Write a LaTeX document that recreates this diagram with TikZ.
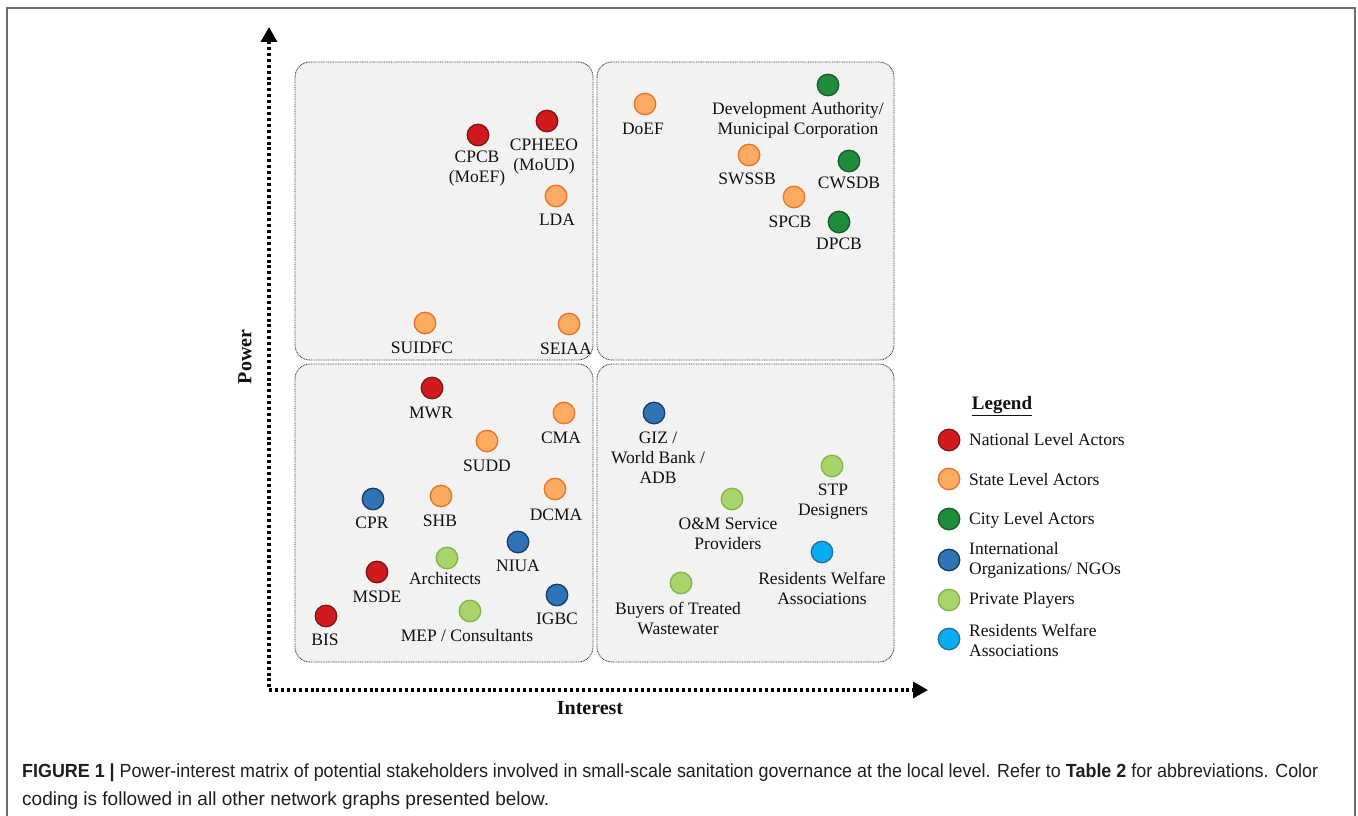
\documentclass[tikz,border=0pt]{standalone}
\usepackage{fontspec}
\setmainfont{Liberation Serif}
\newfontfamily\capfont{Liberation Sans}
\usetikzlibrary{arrows.meta}

\definecolor{natF}{HTML}{D2191E}\definecolor{natD}{HTML}{7E1616}
\definecolor{staF}{HTML}{FBAB62}\definecolor{staD}{HTML}{EC7424}
\definecolor{citF}{HTML}{1F8C3B}\definecolor{citD}{HTML}{175A29}
\definecolor{intF}{HTML}{2E74B5}\definecolor{intD}{HTML}{1C3A66}
\definecolor{priF}{HTML}{A9D46B}\definecolor{priD}{HTML}{7DB646}
\definecolor{rwaF}{HTML}{05AEEF}\definecolor{rwaD}{HTML}{2A6EA6}
\definecolor{quadF}{HTML}{F2F2F2}\definecolor{quadD}{HTML}{3A3A3A}
\definecolor{txt}{HTML}{111111}
\definecolor{frameC}{HTML}{6E6E6E}

\begin{document}
\begin{tikzpicture}[x=1pt,y=-1pt,
  dot/.style={circle,line width=1.3pt,minimum size=21.5pt,inner sep=0pt},
  natdot/.style={dot,fill=natF,draw=natD},
  stadot/.style={dot,fill=staF,draw=staD},
  citdot/.style={dot,fill=citF,draw=citD},
  intdot/.style={dot,fill=intF,draw=intD},
  pridot/.style={dot,fill=priF,draw=priD},
  rwadot/.style={dot,fill=rwaF,draw=rwaD},
  lbl/.style={font=\fontsize{17.5}{20}\selectfont,align=center,inner sep=0pt,text=txt},
  legtxt/.style={font=\fontsize{17.5}{20}\selectfont,align=left,anchor=west,inner sep=0pt,text=txt},
  quad/.style={draw=quadD,fill=quadF,line width=0.9pt,dash pattern=on 0.9pt off 0.8pt,rounded corners=15pt},
  axisline/.style={line width=3.2pt,dash pattern=on 3pt off 2.9pt,black},
  ttl/.style={font=\fontsize{20}{24}\selectfont\bfseries,inner sep=0pt,text=txt},
  captxt/.style={font=\capfont\fontsize{19}{28}\selectfont,anchor=base west,inner sep=0pt,text=black!88}
]
\useasboundingbox (0,0) rectangle (1358,816);
\fill[white] (0,0) rectangle (1358,816);

% figure frame (open at the bottom)
\draw[frameC,line width=1.3pt] (7,816) -- (7,8) -- (1355,8) -- (1355,816);

% quadrants
\draw[quad] (295,62) rectangle (593,360);
\draw[quad] (597,62) rectangle (894,360);
\draw[quad] (295,364) rectangle (593,662);
\draw[quad] (597,364) rectangle (894,662);

% axes
\coordinate (O) at (269,690);
\coordinate (ytip) at (269,27);
\coordinate (xtip) at (928,690);
\draw[axisline,{Triangle[length=15pt,width=16pt]}-{Triangle[length=15pt,width=16pt]}] (ytip) -- (O) -- (xtip);
\node[ttl,rotate=90] (power) at (245,357) {Power};
\node[ttl] (interest) at (590,708) {Interest};

% high power, low interest
\node[natdot] (cpcb) at (478,135) {};
\node[lbl] (cpcbL) at (477,168.5) {CPCB\\(MoEF)};
\node[natdot] (cpheeo) at (547,121) {};
\node[lbl] (cpheeoL) at (544,156.5) {CPHEEO\\(MoUD)};
\node[stadot] (lda) at (556,196) {};
\node[lbl] (ldaL) at (557,220) {LDA};
\node[stadot] (suidfc) at (425,323) {};
\node[lbl] (suidfcL) at (422,348) {SUIDFC};
\node[stadot] (seiaa) at (569,324) {};
\node[lbl] (seiaaL) at (566,349) {SEIAA};

% high power, high interest
\node[stadot] (doef) at (645,104) {};
\node[lbl] (doefL) at (643,129) {DoEF};
\node[citdot] (devauth) at (828,85) {};
\node[lbl] (devauthL) at (798,120) {Development Authority/\\Municipal Corporation};
\node[stadot] (swssb) at (749,155) {};
\node[lbl] (swssbL) at (747,179) {SWSSB};
\node[citdot] (cwsdb) at (849,161) {};
\node[lbl] (cwsdbL) at (849,183) {CWSDB};
\node[stadot] (spcb) at (794,197) {};
\node[lbl] (spcbL) at (790,222) {SPCB};
\node[citdot] (dpcb) at (839,222) {};
\node[lbl] (dpcbL) at (839,244) {DPCB};

% low power, low interest
\node[natdot] (mwr) at (432,388) {};
\node[lbl] (mwrL) at (431,413) {MWR};
\node[stadot] (cma) at (564,413) {};
\node[lbl] (cmaL) at (561,438) {CMA};
\node[stadot] (sudd) at (487,441) {};
\node[lbl] (suddL) at (487,466) {SUDD};
\node[intdot] (cpr) at (373,499) {};
\node[lbl] (cprL) at (372,523) {CPR};
\node[stadot] (shb) at (441,496) {};
\node[lbl] (shbL) at (440,521) {SHB};
\node[stadot] (dcma) at (555,489) {};
\node[lbl] (dcmaL) at (556,515) {DCMA};
\node[intdot] (niua) at (518,542) {};
\node[lbl] (niuaL) at (518,566) {NIUA};
\node[pridot] (arch) at (447,558) {};
\node[lbl] (archL) at (445,579) {Architects};
\node[natdot] (msde) at (377,572) {};
\node[lbl] (msdeL) at (377,597) {MSDE};
\node[intdot] (igbc) at (557,595) {};
\node[lbl] (igbcL) at (557,619) {IGBC};
\node[natdot] (bis) at (326,616) {};
\node[lbl] (bisL) at (325,640) {BIS};
\node[pridot] (mep) at (470,611) {};
\node[lbl] (mepL) at (467,636) {MEP / Consultants};

% low power, high interest
\node[intdot] (giz) at (654,413) {};
\node[lbl] (gizL) at (658,458) {GIZ /\\World Bank /\\ADB};
\node[pridot] (stp) at (832,466) {};
\node[lbl] (stpL) at (833,501.5) {STP\\Designers};
\node[pridot] (om) at (732,499) {};
\node[lbl] (omL) at (728,534) {O\&M Service\\Providers};
\node[rwadot] (rwa) at (822,552) {};
\node[lbl] (rwaL) at (822,588) {Residents Welfare\\Associations};
\node[pridot] (buyers) at (681,583) {};
\node[lbl] (buyersL) at (678,618) {Buyers of Treated\\Wastewater};

% legend
\node[ttl,font=\fontsize{19}{24}\selectfont\bfseries] (legT) at (1002,406) {\underline{Legend}};
\node[natdot] (lg1) at (949,440) {};
\node[legtxt] (lg1L) at (969,440) {National Level Actors};
\node[stadot] (lg2) at (949,479) {};
\node[legtxt] (lg2L) at (969,480) {State Level Actors};
\node[citdot] (lg3) at (949,519) {};
\node[legtxt] (lg3L) at (969,520) {City Level Actors};
\node[intdot] (lg4) at (949,560) {};
\node[legtxt] (lg4L) at (969,560) {International\\Organizations/ NGOs};
\node[pridot] (lg5) at (949,600) {};
\node[legtxt] (lg5L) at (969,600) {Private Players};
\node[rwadot] (lg6) at (949,639) {};
\node[legtxt] (lg6L) at (969,640) {Residents Welfare\\Associations};

% caption
\node[captxt] (cap1) at (22,777) {\scalebox{0.9425}[1]{\textbf{FIGURE 1 |} Power-interest matrix of potential stakeholders involved in small-scale sanitation governance at the local level. Refer to \textbf{Table 2} for abbreviations. Color}};
\node[captxt] (cap2) at (22,805) {coding is followed in all other network graphs presented below.};
\end{tikzpicture}
\end{document}
